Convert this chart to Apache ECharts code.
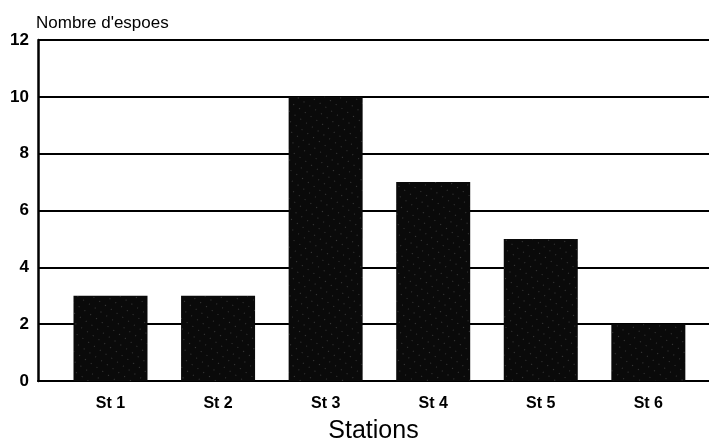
<!DOCTYPE html>
<html>
<head>
<meta charset="utf-8">
<script src="https://cdn.jsdelivr.net/npm/echarts@6/dist/echarts.min.js"></script>
<style>
html,body{margin:0;padding:0;background:#fff;}
#c{width:709px;height:443px;}
</style>
</head>
<body>
<div id="c"></div>
<script>
var categories = ['St 1', 'St 2', 'St 3', 'St 4', 'St 5', 'St 6'];
var especes = [3, 3, 10, 7, 5, 2];
var yTitle = "Nombre d'espoes";
var xTitle = 'Stations';

var positions = categories.map(function (c, i) { return i; });
var barData = especes.map(function (v, i) { return [i, v]; });

var chart = echarts.init(document.getElementById('c'), null, {renderer: 'canvas'});
chart.setOption({
  animation: false,
  backgroundColor: '#fff',
  title: {
    text: yTitle,
    left: 31,
    top: 10,
    textStyle: {fontFamily: 'Liberation Sans', fontSize: 17, fontWeight: 'normal', color: '#000'}
  },
  grid: {left: 38, right: 0, top: 40, bottom: 62, containLabel: false, outerBoundsMode: 'none'},
  xAxis: {
    type: 'value',
    min: -0.674,
    max: 5.564,
    name: xTitle,
    nameLocation: 'middle',
    nameGap: 38,
    nameTextStyle: {fontFamily: 'Liberation Sans', fontSize: 25, color: '#000'},
    axisLine: {show: true, onZero: false, lineStyle: {color: '#000', width: 2}},
    axisTick: {show: false},
    splitLine: {show: false},
    axisLabel: {
      customValues: positions,
      formatter: function (v) { return categories[Math.round(v)]; },
      margin: 15,
      fontFamily: 'Liberation Sans',
      fontWeight: 'bold',
      fontSize: 16,
      color: '#000'
    }
  },
  yAxis: {
    type: 'value',
    min: 0,
    max: 12,
    interval: 2,
    axisLine: {show: true, onZero: false, lineStyle: {color: '#000', width: 2.5}},
    axisTick: {show: false},
    axisLabel: {margin: 9, fontFamily: 'Liberation Sans', fontWeight: 'bold', fontSize: 17, color: '#000'},
    splitLine: {show: true, lineStyle: {color: '#000', width: 1.8}}
  },
  series: [{
    type: 'bar',
    data: barData,
    barWidth: 74,
    itemStyle: {
      color: '#0a0a0a',
      decal: {
        symbol: 'rect',
        symbolSize: 0.7,
        color: 'rgba(255,255,255,0.6)',
        dashArrayX: [1, 6],
        dashArrayY: [1, 7],
        rotation: 0.6
      }
    }
  }]
});
</script>
</body>
</html>
